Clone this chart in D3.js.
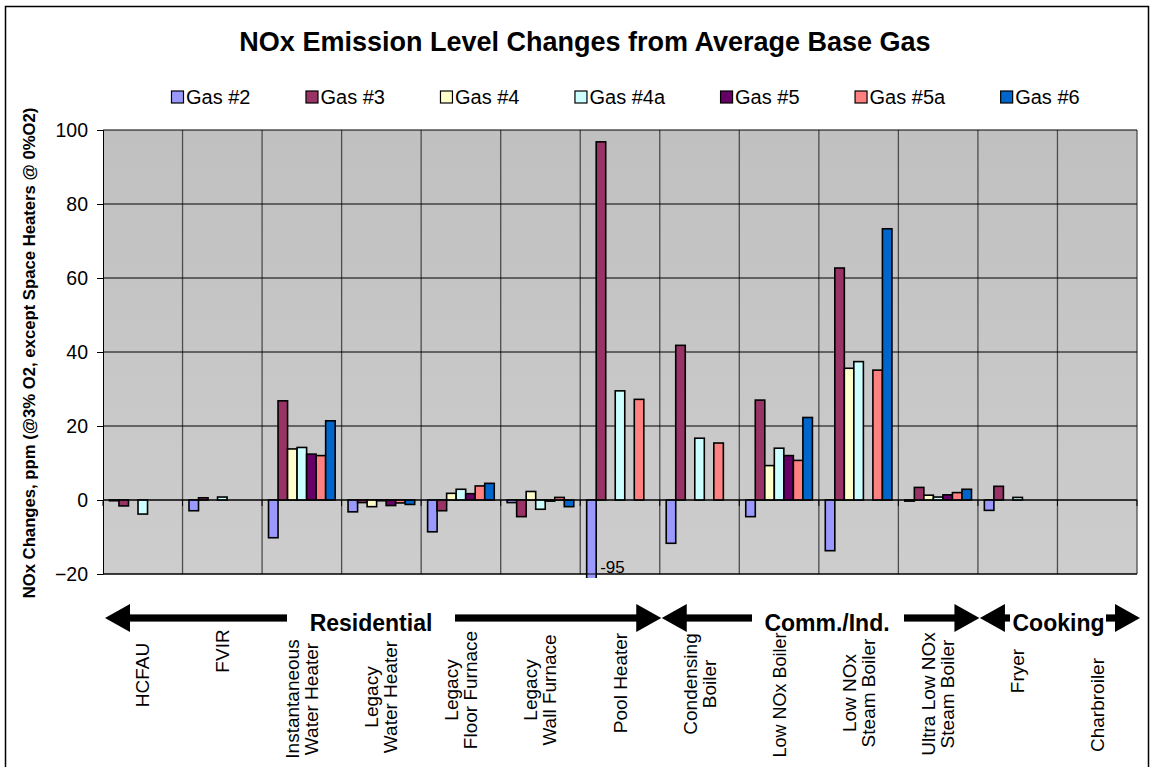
<!DOCTYPE html>
<html><head><meta charset="utf-8">
<script src="https://cdn.jsdelivr.net/npm/d3@7"></script>
<style>
html,body{margin:0;padding:0;background:#fff;}
svg{display:block;font-family:Arial,"Liberation Sans",sans-serif;}
</style></head>
<body>
<svg id="chart" width="1154" height="767"></svg>
<script>
// ---------- DATA ----------
const categories = ["HCFAU","FVIR","Instantaneous\nWater Heater","Legacy\nWater Heater","Legacy\nFloor Furnace","Legacy\nWall Furnace","Pool Heater","Condensing\nBoiler","Low NOx Boiler","Low NOx\nSteam Boiler","Ultra Low NOx\nSteam Boiler","Fryer","Charbroiler"];
const seriesNames = ["Gas #2","Gas #3","Gas #4","Gas #4a","Gas #5","Gas #5a","Gas #6"];
const gas2  = [-0.2, -2.9, -10.2, -3.2, -8.6, -0.7, -95, -11.7, -4.5, -13.7, -0.3, -2.8, null];
const gas3  = [-1.6,  0.6,  26.8, -0.7, -2.9, -4.5, 96.8, 41.8, 27.0, 62.7, 3.4, 3.7, null];
const gas4  = [null, null,  13.8, -1.8,  1.8,  2.3, null, null,  9.3, 35.6, 1.3, null, null];
const gas4a = [-3.8,  0.8,  14.2, -0.2,  2.9, -2.5, 29.5, 16.7, 14.0, 37.4, 0.8, 0.7, null];
const gas5  = [null, null,  12.4, -1.5,  1.7, -0.3, null, null, 12.0, null, 1.4, null, null];
const gas5a = [null, null,  12.0, -0.8,  3.8,  0.7, 27.2, 15.4, 10.7, 35.1, 2.0, null, null];
const gas6  = [null, null,  21.4, -1.2,  4.5, -1.8, null, null, 22.3, 73.3, 2.9, null, null];
const yTicks = [-20, 0, 20, 40, 60, 80, 100];
const sectionNames = ["Residential","Comm./Ind.","Cooking"];
const sectionFrom = [0, 7, 11];
const sectionTo = [7, 11, 13];
const clippedLabel = "-95";

// ---------- STYLE / LAYOUT ----------
const colors = ["#9999FF","#993366","#FFFFCC","#CCFFFF","#660066","#FF8080","#0066CC"];
const plot = {x0:103, x1:1137, y0:130, y1:574};
const labelCenters = [675,651,699,697,690,690,683,684,695,693,694,671,705];
const labelSizes   = [19,19,19,19,19,19,19,19,18,19,19,19,19];
const sectionTextX = [371, 827, 1058.5];
const sectionGaps = [[287,455],[752,904],[1010,1106]];
const FONT = 'Arial, "Liberation Sans", sans-serif';

const seriesValues = [gas2,gas3,gas4,gas4a,gas5,gas5a,gas6];
const svg = d3.select("#chart");

// frame
svg.append("rect").attr("x",5.5).attr("y",6.5).attr("width",1143).attr("height",770)
  .attr("fill","#fff").attr("stroke","#000").attr("stroke-width",1.5);

// scales
const x = d3.scaleBand().domain(d3.range(categories.length)).range([plot.x0, plot.x1]).padding(0);
const bw = x.bandwidth();
const xs = d3.scaleBand().domain(d3.range(seriesNames.length)).range([bw*0.081, bw*0.919]).padding(0);
const y = d3.scaleLinear().domain([-20,100]).range([plot.y1, plot.y0]);

// background gradient
const defs = svg.append("defs");
const grad = defs.append("linearGradient").attr("id","bg").attr("x1",0).attr("y1",0).attr("x2",0).attr("y2",1);
grad.append("stop").attr("offset","0%").attr("stop-color","#c0c0c0");
grad.append("stop").attr("offset","100%").attr("stop-color","#cdcdcd");
defs.append("clipPath").attr("id","clip").append("rect")
  .attr("x",plot.x0).attr("y",plot.y0).attr("width",plot.x1-plot.x0).attr("height",plot.y1-plot.y0+4);

svg.append("rect").attr("x",plot.x0).attr("y",plot.y0).attr("width",plot.x1-plot.x0).attr("height",plot.y1-plot.y0)
  .attr("fill","url(#bg)");

// vertical gridlines (category boundaries)
svg.append("g").selectAll("line").data(d3.range(1,categories.length+1)).join("line")
  .attr("x1",d=>x(d-1)+bw).attr("x2",d=>x(d-1)+bw)
  .attr("y1",plot.y0).attr("y2",plot.y1)
  .attr("stroke","#4d4d4d").attr("stroke-width",1.3);

// horizontal gridlines
svg.append("g").selectAll("line").data(yTicks).join("line")
  .attr("x1",plot.x0).attr("x2",plot.x1)
  .attr("y1",d=>y(d)).attr("y2",d=>y(d))
  .attr("stroke","#000").attr("stroke-width",1);

// y axis
const yAxis = d3.axisLeft(y).tickValues(yTicks).tickSize(6).tickPadding(9).tickFormat(d3.format("d"));
const ya = svg.append("g").attr("transform",`translate(${plot.x0},0)`).call(yAxis);
ya.select(".domain").attr("stroke","#000");
ya.selectAll(".tick line").attr("stroke","#000");
ya.selectAll("text").attr("font-size",19.5).attr("font-family",FONT).attr("fill","#000");

// bars
const barData = [];
seriesValues.forEach((arr,si)=>arr.forEach((v,ci)=>{ if(v!==null) barData.push({si,ci,v}); }));
svg.append("g").attr("clip-path","url(#clip)").selectAll("rect").data(barData).join("rect")
  .attr("x",d=>x(d.ci)+xs(d.si))
  .attr("width",xs.bandwidth())
  .attr("y",d=>y(Math.max(0,d.v)))
  .attr("height",d=>Math.max(0.5,Math.abs(y(d.v)-y(0))))
  .attr("fill",d=>colors[d.si])
  .attr("stroke","#000").attr("stroke-width",1.6);

// x axis at zero
const xAxisG = svg.append("g");
xAxisG.append("line").attr("x1",plot.x0).attr("x2",plot.x1).attr("y1",y(0)).attr("y2",y(0)).attr("stroke","#000").attr("stroke-width",1);
xAxisG.selectAll("line.tk").data(d3.range(0,categories.length+1)).join("line").attr("class","tk")
  .attr("x1",d=>plot.x0+d*bw).attr("x2",d=>plot.x0+d*bw)
  .attr("y1",y(0)).attr("y2",y(0)+6).attr("stroke","#000").attr("stroke-width",1);

// plot bottom border
svg.append("line").attr("x1",plot.x0).attr("x2",plot.x1).attr("y1",plot.y1).attr("y2",plot.y1).attr("stroke","#000");

// clipped value label
const clipBar = barData.find(d=>d.v<-20);
if(clipBar){
  svg.append("text").attr("x",x(clipBar.ci)+xs(clipBar.si)+xs.bandwidth()+4).attr("y",plot.y1-1)
    .attr("font-size",17).attr("font-family",FONT).text(clippedLabel);
}

// title
svg.append("text").attr("x",585).attr("y",51).attr("text-anchor","middle")
  .attr("font-size",27).attr("font-weight","bold").attr("font-family",FONT)
  .text("NOx Emission Level Changes from Average Base Gas");

// legend
const lg = svg.append("g").attr("transform","translate(171,97)");
let lx = 0;
seriesNames.forEach((n,i)=>{
  const g = lg.append("g").attr("transform",`translate(${lx},0)`);
  g.append("rect").attr("x",0.5).attr("y",-6).attr("width",12).attr("height",12)
    .attr("fill",colors[i]).attr("stroke","#000").attr("stroke-width",1.2);
  const t = g.append("text").attr("x",15).attr("y",7).attr("font-size",20).attr("font-family",FONT).text(n);
  lx += 15 + t.node().getComputedTextLength() + 55;
});

// y axis title
svg.append("text").attr("transform",`translate(35,${(plot.y0+plot.y1)/2+1}) rotate(-90)`)
  .attr("text-anchor","middle").attr("font-size",16.7).attr("font-weight","bold").attr("font-family",FONT)
  .text("NOx Changes, ppm (@3% O2, except Space Heaters @ 0%O2)");

// category labels (rotated)
const lineH = 19;
categories.forEach((c,i)=>{
  const lines = c.split("\n");
  const cx = x(i)+bw/2;
  lines.forEach((ln,j)=>{
    const bx = cx + (j-(lines.length-1)/2)*lineH + 6.5;
    svg.append("text").attr("transform",`translate(${bx},${labelCenters[i]}) rotate(-90)`)
      .attr("text-anchor","middle").attr("font-size",labelSizes[i]).attr("font-family",FONT).text(ln);
  });
});

// section arrows
const ay = 618, sh = 3.6, headL = 25, headH = 14;
const sx = v => plot.x0 + v*bw;
const arrows = svg.append("g");
sectionNames.forEach((name,i)=>{
  const left = sx(sectionFrom[i]) + 2;
  const right = sx(sectionTo[i]) + (i===sectionNames.length-1 ? 3 : 1.5);
  arrows.append("text").attr("x",sectionTextX[i]).attr("y",ay+13).attr("text-anchor","middle")
    .attr("font-size",23).attr("font-weight","bold").attr("font-family",FONT).text(name);
  const [gL,gR] = sectionGaps[i];
  arrows.append("path").attr("d",`M${left},${ay} L${left+headL},${ay-headH} L${left+headL},${ay+headH} Z`).attr("fill","#000");
  arrows.append("rect").attr("x",left+headL-1).attr("y",ay-sh).attr("width",Math.max(0,gL-left-headL+1)).attr("height",sh*2).attr("fill","#000");
  arrows.append("rect").attr("x",gR).attr("y",ay-sh).attr("width",Math.max(0,right-headL-gR+1)).attr("height",sh*2).attr("fill","#000");
  arrows.append("path").attr("d",`M${right},${ay} L${right-headL},${ay-headH} L${right-headL},${ay+headH} Z`).attr("fill","#000");
});
</script>
</body></html>
